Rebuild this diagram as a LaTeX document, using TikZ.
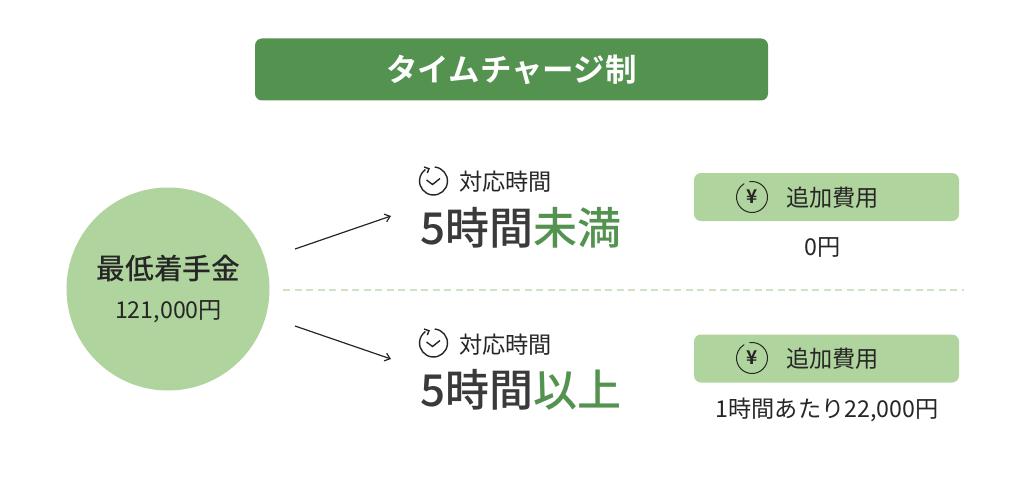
\documentclass[tikz,border=0pt]{standalone}
\usepackage{fontspec}
\usepackage{xcolor}
\usetikzlibrary{arrows.meta}
\setmainfont{Noto Sans CJK JP}
\newfontfamily\mediumjp{Noto Sans CJK JP Medium}
\newfontfamily\titlejp{Noto Sans CJK JP Bold}
\definecolor{darkgreen}{HTML}{53934F}
\definecolor{lightgreen}{HTML}{B0D49E}
\definecolor{dashgreen}{HTML}{CFE3C3}
\definecolor{inkgray}{HTML}{3A3A3A}
\tikzset{
  labeltext/.style={inner sep=0pt, text=black!85},
  feebox/.style={fill=lightgreen, rounded corners=7pt, minimum width=265pt, minimum height=48pt, inner sep=0pt},
  bigtext/.style={inner sep=0pt, anchor=west, text=inkgray, font=\mediumjp\fontsize{44}{44}\selectfont},
  arrowline/.style={-{Straight Barb[length=5pt,width=8pt]}, line width=1.2pt, black!85}
}
\newcommand{\clockicon}[2]{
  \begin{scope}[shift={(#1,#2)}, black!85, line width=1.4pt]
    \draw (0,0) ++(-85:14) arc (-85:235:14);
    \draw (-9.5,-14) -- (-4.5,-12.3) -- (-6.2,-8);
    \draw (-7,-1) -- (-1,3.5) -- (6.5,-2.5);
  \end{scope}
}
\newcommand{\yenicon}[2]{
  \begin{scope}[shift={(#1,#2)}, black!85, line width=1pt]
    \draw (0,0) ++(-100:15.5) arc (-100:240:15.5);
    \node[inner sep=0pt, font=\titlejp\fontsize{19}{19}\selectfont] at (0,0) {¥};
  \end{scope}
}
\begin{document}
\begin{tikzpicture}[x=1pt,y=-1pt]
\useasboundingbox (0,0) rectangle (1024,484);
\fill[white] (0,0) rectangle (1024,484);

% title
\node[fill=darkgreen, rounded corners=7pt, minimum width=513pt, minimum height=62pt, inner sep=0pt, text=white, font=\titlejp\fontsize{31.5}{31.5}\selectfont] (title) at (511.5,69.5) {タイムチャージ制};

% fee circle
\node[circle, fill=lightgreen, minimum size=203pt, inner sep=0pt] (base) at (168,289) {};
\node[labeltext, font=\mediumjp\fontsize{28.8}{28.8}\selectfont] (baselabel) at (168.5,269) {最低着手金};
\node[labeltext, font=\fontsize{23.2}{23.2}\selectfont] (baseprice) at (168.5,311.5) {121,000円};

% arrows
\coordinate (upstart) at (295,249);
\coordinate (upend) at (391,216);
\coordinate (lowstart) at (295,326);
\coordinate (lowend) at (391,359);
\draw[arrowline] (upstart) -- (upend);
\draw[arrowline] (lowstart) -- (lowend);

% divider
\coordinate (divleft) at (283,290);
\coordinate (divright) at (964,290);
\draw[dashgreen, line width=1.5pt, dash pattern=on 7pt off 4.5pt] (divleft) -- (divright);

% upper row
\clockicon{433.5}{181}
\node[labeltext, anchor=west, font=\fontsize{23.2}{23.2}\selectfont] (timeup) at (459,182) {対応時間};
\node[bigtext] (hoursup) at (420,228) {5時間\textcolor{darkgreen}{未満}};
\node[feebox] (feeup) at (826.5,197) {};
\yenicon{752}{197}
\node[labeltext, anchor=west, font=\fontsize{23.2}{23.2}\selectfont] (feeuplabel) at (786,198) {追加費用};
\node[labeltext, font=\fontsize{23.2}{23.2}\selectfont] (priceup) at (822.5,247) {0円};

% lower row
\clockicon{433.5}{343}
\node[labeltext, anchor=west, font=\fontsize{23.2}{23.2}\selectfont] (timelow) at (459,345) {対応時間};
\node[bigtext] (hourslow) at (420,390) {5時間\textcolor{darkgreen}{以上}};
\node[feebox] (feelow) at (826.5,358.5) {};
\yenicon{752}{358}
\node[labeltext, anchor=west, font=\fontsize{23.2}{23.2}\selectfont] (feelowlabel) at (786,359) {追加費用};
\node[labeltext, font=\fontsize{23.2}{23.2}\selectfont] (pricelow) at (827,410) {1時間あたり22,000円};
\end{tikzpicture}
\end{document}
